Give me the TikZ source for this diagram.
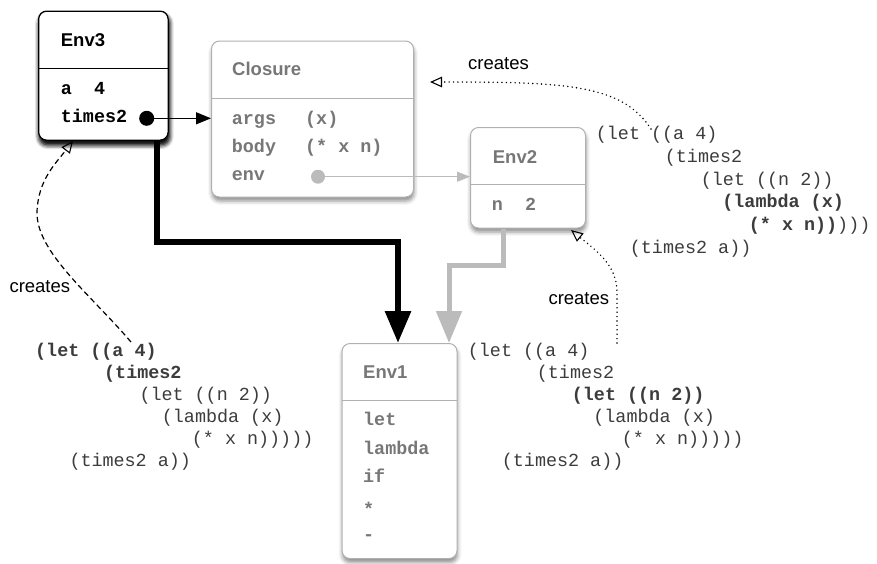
\documentclass[tikz,border=0pt]{standalone}
\usepackage{fontspec}
\setmainfont{Liberation Sans}
\setmonofont{Liberation Mono}
\usetikzlibrary{arrows.meta,shadows.blur}

\definecolor{boxgray}{HTML}{B0B0B0}
\definecolor{textgray}{HTML}{777777}
\definecolor{linkgray}{HTML}{BBBBBB}
\definecolor{codeink}{HTML}{3C3C3C}

\tikzset{
  frame/.style={draw=boxgray, line width=1pt, fill=white, rounded corners=8pt,
    anchor=north west, inner sep=0pt,
    blur shadow={shadow xshift=0.5pt, shadow yshift=-4pt,
      shadow blur radius=4pt, shadow opacity=45}},
  darkframe/.style={frame, draw=black, line width=1.3pt,
    blur shadow={shadow xshift=1pt, shadow yshift=-4.5pt,
      shadow blur radius=4.5pt, shadow opacity=85}},
  divider/.style={draw=boxgray, line width=1pt},
  title/.style={anchor=base west, inner sep=0pt,
    font=\fontsize{18.5}{22}\selectfont\bfseries},
  slot/.style={anchor=base west, inner sep=0pt,
    font=\fontsize{18.4}{22}\selectfont\ttfamily\bfseries},
  code/.style={anchor=base west, inner sep=0pt, text=codeink,
    font=\fontsize{18.4}{22}\selectfont\ttfamily},
  label/.style={anchor=base west, inner sep=0pt,
    font=\fontsize{18.5}{22}\selectfont},
  dot/.style={circle, inner sep=0pt, minimum size=15pt},
  creates/.style={line width=1.1pt,
    -{Triangle[open, length=12pt, width=10.5pt, line width=1.1pt]}},
  dotline/.style={creates, line width=1.6pt, line cap=round,
    dash pattern=on 0pt off 4.4pt},
  dashline/.style={creates, line width=1.2pt, dash pattern=on 5.5pt off 3.5pt},
}

\begin{document}
\begin{tikzpicture}[x=1pt, y=-1pt]
\useasboundingbox (0,0) rectangle (877,563);

% ---------- environment frames ----------
\node[darkframe, minimum width=129.5pt, minimum height=129pt] (env3) at (38,10.5) {};
\draw[line width=1.3pt] (38,68.3) -- (167.5,68.3);
\node[title] (env3t) at (60.7,46) {Env3};
\node[slot] (env3a) at (60.7,94) {a~~4};
\node[slot] (env3b) at (60.7,122) {times2};

\node[frame, minimum width=202pt, minimum height=156pt] (closure) at (211,40.5) {};
\draw[divider] (211,98.3) -- (413,98.3);
\node[title, text=textgray] (closuret) at (232,75.6) {Closure};
\node[slot, text=textgray] (cargs) at (231.7,124) {args};
\node[slot, text=textgray] (cargsv) at (305,124) {(x)};
\node[slot, text=textgray] (cbody) at (231.7,152) {body};
\node[slot, text=textgray] (cbodyv) at (305,152) {(* x n)};
\node[slot, text=textgray] (cenv) at (231.7,180.5) {env};

\node[frame, minimum width=115pt, minimum height=100.5pt] (env2) at (470,127) {};
\draw[divider] (470,184) -- (585,184);
\node[title, text=textgray] (env2t) at (492.7,163.3) {Env2};
\node[slot, text=textgray] (env2n) at (491.7,210) {n~~2};

\node[frame, minimum width=115pt, minimum height=215pt] (env1) at (341.5,343) {};
\draw[divider] (341.5,400) -- (456.5,400);
\node[title, text=textgray] (env1t) at (363,378.3) {Env1};
\node[slot, text=textgray] (e1let) at (363,425.5) {let};
\node[slot, text=textgray] (e1lam) at (363,454.5) {lambda};
\node[slot, text=textgray] (e1if) at (363,482.5) {if};
\node[slot, text=textgray] (e1mul) at (363,515) {*};
\node[slot, text=textgray] (e1sub) at (363,540) {-};

% ---------- pointers ----------
\node[dot, fill=black] (t2dot) at (146.7,118.3) {};
\draw[line width=1.2pt, -{Triangle[length=15pt, width=12pt]}]
  (t2dot.center) -- (closure.west |- t2dot.center);

\node[dot, fill=linkgray, minimum size=14pt] (envdot) at (318,176.7) {};
\draw[linkgray, line width=1pt, -{Triangle[length=13pt, width=10pt]}]
  (envdot.center) -- (env2.west |- envdot.center);

% parent links
\draw[line width=6pt, -{Triangle[length=32pt, width=25pt]}]
  (env3.south -| 156.5,0) |- (398,242) -- (env1.north -| 398,0);
\draw[linkgray, line width=5pt, -{Triangle[length=32pt, width=25pt]}]
  (env2.south -| 503,0) |- (449,265) -- (env1.north -| 449,0);

% ---------- source code listings ----------
% top right: creates the closure
\node[code] (r1) at (595.7,139.5) {(let ((a 4)};
\node[code] (r2) at (664.7,162.3) {(times2};
\node[code] (r3) at (700.7,185.1) {(let ((n 2))};
\node[code] (r4) at (722.2,207.9) {\textbf{(lambda (x)}};
\node[code] (r5) at (748.7,230.7) {\textbf{(* x n))})))};
\node[code] (r6) at (629.7,253.5) {(times2 a))};

% middle: creates Env2
\node[code] (m1) at (467.7,356.2) {(let ((a 4)};
\node[code] (m2) at (536.7,378.3) {(times2};
\node[code] (m3) at (571.7,400.4) {\textbf{(let ((n 2))}};
\node[code] (m4) at (593.2,422.5) {(lambda (x)};
\node[code] (m5) at (621.7,444.6) {(* x n)))))};
\node[code] (m6) at (501.7,466.7) {(times2 a))};

% left: creates Env3
\node[code] (l1) at (35,356.2) {\textbf{(let ((a 4)}};
\node[code] (l2) at (104,378.3) {\textbf{(times2}};
\node[code] (l3) at (139.3,400.4) {(let ((n 2))};
\node[code] (l4) at (161.7,422.5) {(lambda (x)};
\node[code] (l5) at (191.7,444.6) {(* x n)))))};
\node[code] (l6) at (69.3,466.7) {(times2 a))};

% ---------- "creates" relations ----------
\node[label] (cr1) at (468,69) {creates};
\node[label] (cr2) at (548.3,304) {creates};
\node[label] (cr3) at (9.3,292) {creates};

\coordinate (fromR) at (651,129);
\coordinate (fromM) at (617,343);
\coordinate (fromL) at (131,342);
\coordinate (toClosure) at (430,82);
\coordinate (toEnv2) at (571,230);
\coordinate (toEnv3) at (73,141);

\draw[dotline]
  (fromR) .. controls (622,84) and (565,82) .. (toClosure);
\draw[dotline]
  (fromM) -- (617,292) .. controls (617,266) and (598,252) .. (toEnv2);
\draw[dashline]
  (fromL) .. controls (92,296) and (36,252) .. (37,212)
  .. controls (38,180) and (56,163) .. (toEnv3);
\end{tikzpicture}
\end{document}
